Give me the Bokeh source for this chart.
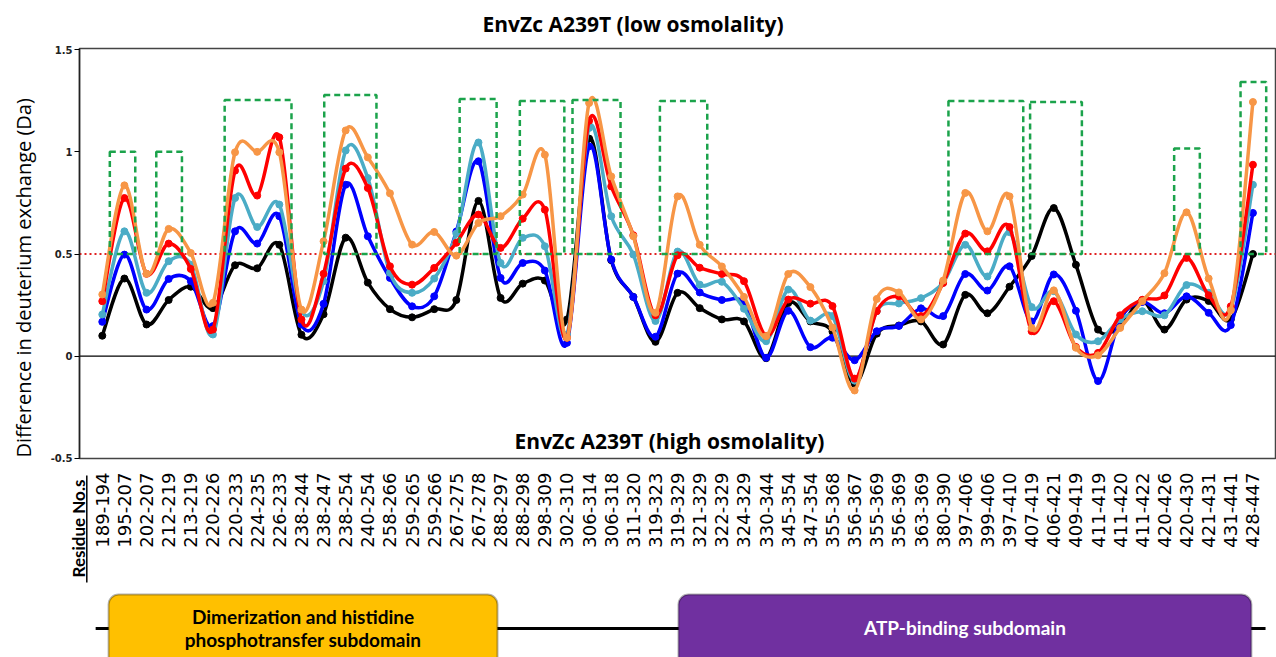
import numpy as np
from bokeh.plotting import figure
from bokeh.models import Range1d, FixedTicker, Span, Label, BoxAnnotation, Title
from bokeh.layouts import column
from bokeh.embed import file_html
from bokeh.resources import INLINE
from bokeh.core.properties import value

# ---------------- data ----------------
residues = ["189-194", "195-207", "202-207", "212-219", "213-219", "220-226", "220-233", "224-235",
            "226-233", "238-244", "238-247", "238-254", "240-254", "258-266", "259-265", "259-266",
            "267-275", "267-278", "288-297", "288-298", "298-309", "302-310", "306-314", "306-318",
            "311-320", "319-323", "319-329", "321-329", "322-329", "324-329", "330-344", "345-354",
            "347-354", "355-368", "356-367", "355-369", "356-369", "363-369", "380-390", "397-406",
            "399-406", "397-410", "407-419", "406-421", "409-419", "411-419", "411-420", "411-422",
            "420-426", "420-430", "421-431", "431-441", "428-447"]

series_black = [0.10, 0.38, 0.155, 0.275, 0.34, 0.235, 0.445, 0.43, 0.545, 0.105, 0.205, 0.58, 0.36,
                0.23, 0.19, 0.23, 0.275, 0.76, 0.285, 0.355, 0.37, 0.18, 1.065, 0.47, 0.29, 0.07,
                0.31, 0.235, 0.18, 0.17, -0.01, 0.26, 0.17, 0.12, -0.135, 0.11, 0.15, 0.17, 0.057, 0.30,
                0.21, 0.34, 0.49, 0.725, 0.447, 0.13, 0.147, 0.273, 0.13, 0.277, 0.27, 0.18, 0.50]
series_blue = [0.168, 0.497, 0.228, 0.378, 0.367, 0.147, 0.611, 0.551, 0.685, 0.155, 0.256, 0.839, 0.587,
               0.383, 0.244, 0.293, 0.61, 0.954, 0.383, 0.456, 0.419, 0.065, 1.027, 0.473, 0.29, 0.095,
               0.404, 0.312, 0.275, 0.258, -0.008, 0.222, 0.044, 0.09, -0.02, 0.122, 0.148, 0.234, 0.196, 0.402,
               0.321, 0.44, 0.17, 0.40, 0.222, -0.122, 0.18, 0.265, 0.21, 0.293, 0.212, 0.152, 0.701]
series_teal = [0.204, 0.611, 0.31, 0.465, 0.448, 0.106, 0.774, 0.632, 0.742, 0.22, 0.367, 1.007, 0.872,
               0.408, 0.31, 0.38, 0.60, 1.046, 0.456, 0.579, 0.538, 0.106, 1.117, 0.685, 0.497, 0.172,
               0.512, 0.35, 0.364, 0.232, 0.073, 0.326, 0.174, 0.196, -0.12, 0.22, 0.258, 0.284, 0.36, 0.545,
               0.39, 0.607, 0.24, 0.318, 0.106, 0.073, 0.18, 0.22, 0.2, 0.348, 0.31, 0.23, 0.839]
series_red = [0.269, 0.774, 0.403, 0.551, 0.427, 0.13, 0.908, 0.786, 1.071, 0.179, 0.403, 0.918, 0.823,
              0.44, 0.35, 0.432, 0.555, 0.693, 0.53, 0.673, 0.717, 0.09, 1.152, 0.831, 0.592, 0.2,
              0.494, 0.433, 0.402, 0.367, 0.099, 0.277, 0.257, 0.245, -0.11, 0.22, 0.293, 0.196, 0.358, 0.6,
              0.513, 0.632, 0.122, 0.269, 0.045, 0.016, 0.2, 0.276, 0.297, 0.481, 0.298, 0.244, 0.937]
series_orange = [0.302, 0.836, 0.403, 0.623, 0.505, 0.261, 0.998, 1.0, 0.998, 0.228, 0.562, 1.105, 0.973,
                 0.797, 0.546, 0.608, 0.492, 0.652, 0.685, 0.791, 0.986, 0.09, 1.239, 0.88, 0.587, 0.212,
                 0.782, 0.545, 0.439, 0.29, 0.098, 0.402, 0.338, 0.14, -0.168, 0.28, 0.312, 0.18, 0.37, 0.799,
                 0.611, 0.782, 0.138, 0.322, 0.041, 0.004, 0.138, 0.269, 0.406, 0.704, 0.38, 0.225, 1.244]

# highlighted regions (category index units), bottom at threshold
region_left = [0.34, 2.44, 5.53, 10.03, 16.15, 18.87, 21.25, 25.2, 38.24, 41.93, 48.44, 51.44]
region_right = [1.49, 3.6, 8.55, 12.39, 17.82, 20.88, 23.42, 27.34, 41.62, 44.27, 49.6, 52.6]
region_top = [1.0, 1.0, 1.254, 1.278, 1.259, 1.249, 1.254, 1.249, 1.249, 1.244, 1.017, 1.342]
threshold = 0.5

y_ticks = [-0.5, 0, 0.5, 1, 1.5]
y_tick_labels = ["-0.5", "0", "0.5", "1", "1.5"]

domain_names = ["Dimerization and histidine\nphosphotransfer subdomain", "ATP-binding subdomain"]
domain_start = [0.285, 26.04]
domain_end = [17.86, 51.93]
domain_fill = ["#FFC000", "#7030A0"]
domain_text = ["black", "white"]

# ---------------- main chart ----------------
N = len(residues)
xs = np.arange(N, dtype=float)
X0, X1 = -1.03, 53.02
W, LEFT, RIGHT = 1276, 79, 1

p = figure(width=W, height=470, x_range=Range1d(X0, X1), y_range=Range1d(-0.501, 1.506),
           output_backend="svg", toolbar_location=None, x_axis_location=None,
           min_border_left=LEFT, min_border_right=RIGHT, min_border_top=47, min_border_bottom=12)
p.frame_align = False
p.grid.visible = False
p.outline_line_color = "#444444"
p.outline_line_width = 1.5

p.yaxis.ticker = FixedTicker(ticks=y_ticks)
p.yaxis.major_label_overrides = {t: l for t, l in zip(y_ticks, y_tick_labels)}
p.yaxis.major_label_text_font = "DejaVu Sans"
p.yaxis.major_label_text_font_style = "bold"
p.yaxis.major_label_text_font_size = "10px"
p.yaxis.major_label_text_color = "#222222"
p.yaxis.major_tick_out = 5
p.yaxis.major_tick_in = 0
p.yaxis.minor_tick_out = 0
p.yaxis.minor_tick_in = 0
p.yaxis.major_label_standoff = 2
p.yaxis.axis_line_color = "#222222"
p.yaxis.axis_line_width = 1.5

p.add_layout(Title(text="EnvZc A239T (low osmolality)", align="left", offset=403, standoff=18,
                   vertical_align="top",
                   text_font="Open Sans", text_font_style="bold", text_font_size="21px",
                   text_color="black"), "above")
p.add_layout(Title(text="Difference in deuterium exchange (Da)", align="left", offset=1, standoff=18,
                   vertical_align="top",
                   text_font="Open Sans", text_font_style="normal", text_font_size="20px",
                   text_color="black"), "left")

p.add_layout(Span(location=0, dimension="width", line_color="black", line_width=1.2, level="underlay"))
p.add_layout(Span(location=threshold, dimension="width", line_color="#E02020", line_width=2,
                  line_dash="2 3", level="underlay"))


def smooth(ys):
    y = np.asarray(ys, dtype=float)
    xp = np.concatenate([[xs[0]], xs, [xs[-1]]])
    yp = np.concatenate([[y[0]], y, [y[-1]]])
    n = len(y)
    x0, x1, y0, y1 = xs[:-1], xs[1:], y[:-1], y[1:]
    xprev, xnext = xp[0:n - 1], xp[3:n + 2]
    yprev, ynext = yp[0:n - 1], yp[3:n + 2]
    return dict(x0=x0, y0=y0, x1=x1, y1=y1,
                cx0=x0 + (x1 - xprev) / 6, cy0=y0 + (y1 - yprev) / 6,
                cx1=x1 - (xnext - x0) / 6, cy1=y1 - (ynext - y0) / 6)


for ys, col in [(series_black, "black"), (series_blue, "#0000FF"), (series_teal, "#4BACC6"),
                (series_red, "#FF0000"), (series_orange, "#F79646")]:
    p.bezier(**smooth(ys), line_color=col, line_width=3.5, line_cap="round")
    p.scatter(xs, ys, size=7, marker="circle", fill_color=col, line_color=col)

p.quad(left=region_left, right=region_right, top=region_top, bottom=[threshold] * len(region_left),
       fill_alpha=0, line_color="#1BA34B", line_width=2.5, line_dash="6 4")

p.add_layout(Label(x=25.63, y=-0.414, text="EnvZc A239T (high osmolality)", text_align="center",
                   text_baseline="middle", text_font="Open Sans", text_font_style="bold",
                   text_font_size="21px", text_color="black"))

# ---------------- residue labels + domain diagram (same x mapping) ----------------
scale = (W - LEFT - RIGHT) / (X1 - X0)
p2 = figure(width=W, height=187, x_range=Range1d(X0 - LEFT / scale, X1 + RIGHT / scale),
            y_range=Range1d(657, 470), output_backend="svg", toolbar_location=None,
            min_border_left=0, min_border_right=0, min_border_top=0, min_border_bottom=0,
            x_axis_location=None, y_axis_location=None)
p2.frame_align = False
p2.outline_line_color = None
p2.grid.visible = False

p2.text(x=xs, y=[472] * N, text=residues, angle=np.pi / 2, text_align="right", text_baseline="middle",
        text_font=value("DejaVu Sans"), text_font_size="18px", text_color="black")
p2.text(x=[-1.075], y=[528], text=["Residue No.s"], angle=np.pi / 2, text_align="center",
        text_baseline="middle", text_font=value("Lato"), text_font_style="bold",
        text_font_size="17px", text_color="black")
p2.segment(x0=[-0.70], y0=[475], x1=[-0.70], y1=[582], line_color="black", line_width=1.5)

p2.line(x=[-0.30, 52.57], y=[628, 628], line_color="black", line_width=3)
for s, e, fc in zip(domain_start, domain_end, domain_fill):
    p2.add_layout(BoxAnnotation(left=s, right=e, top=594, bottom=700, fill_color=fc, fill_alpha=1,
                                line_color="black", line_width=2, border_radius=10))
for name, s, e, tc in zip(domain_names, domain_start, domain_end, domain_text):
    p2.add_layout(Label(x=(s + e) / 2, y=627, text=name, text_align="center", text_baseline="middle",
                        text_font="Lato", text_font_style="bold", text_font_size="19px",
                        text_color=tc, text_line_height=1.0))

layout = column(p, p2, spacing=0)
open("out.html", "w").write(file_html(layout, INLINE))
